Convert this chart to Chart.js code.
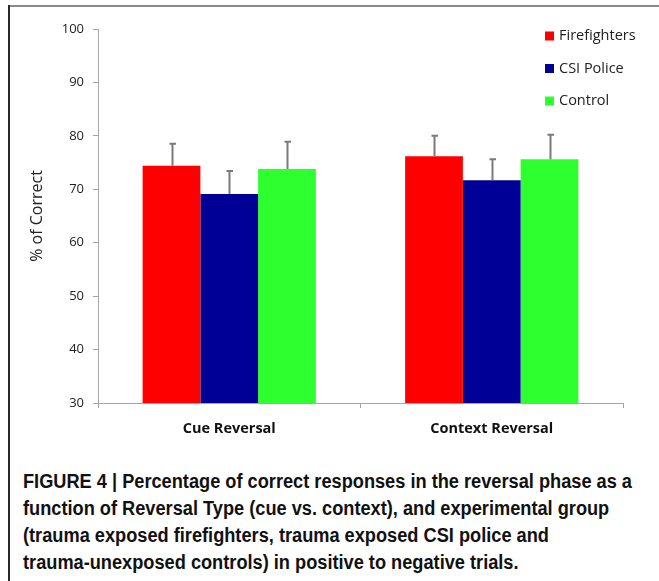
<!DOCTYPE html>
<html>
<head>
<meta charset="utf-8">
<script src="https://cdn.jsdelivr.net/npm/chart.js@4/dist/chart.umd.min.js"></script>
<style>
  html, body { margin: 0; padding: 0; background: #fff; }
  #page { position: relative; width: 659px; height: 581px; overflow: hidden; background: #fff; }
  #frameTop { position: absolute; left: 8px; top: 5px; width: 651px; height: 2px; background: #8a8a8a; }
  #frameLeft { position: absolute; left: 8px; top: 5px; width: 2px; height: 576px; background: #2a2a2a; }
  #chartBox { position: absolute; left: 0; top: 0; width: 659px; height: 455px; }
  #caption {
    position: absolute; left: 23px; top: 468px; white-space: nowrap;
    font-family: "Liberation Sans", Arial, sans-serif;
    font-weight: bold; font-size: 20px; letter-spacing: 0; line-height: 27px; color: #111;
    transform: scaleX(0.91); transform-origin: 0 0;
  }
</style>
</head>
<body>
<div id="page">
  <div id="chartBox"><canvas id="c" width="659" height="455"></canvas></div>
  <div id="frameTop"></div>
  <div id="frameLeft"></div>
  <div id="caption">FIGURE 4 | Percentage of correct responses in the reversal phase as a<br>function of Reversal Type (cue vs. context), and experimental group<br>(trauma exposed firefighters, trauma exposed CSI police and<br>trauma-unexposed controls) in positive to negative trials.</div>
</div>
<script>
// Reversal types on the x axis
const categories = ['Cue Reversal', 'Context Reversal'];
// Group labels
const groups = ['Firefighters', 'CSI Police', 'Control'];
// Mean % correct per group
const firefighters = [74.4, 76.2];
const csiPolice = [69.1, 71.7];
const control = [73.8, 75.6];
// Upper error bar extents (SEM)
const firefightersErr = [4.1, 3.8];
const csiPoliceErr = [4.3, 3.9];
const controlErr = [5.1, 4.6];
// Y-axis ticks
const yTicks = [30, 40, 50, 60, 70, 80, 90, 100];

const colors = ['#ff0000', '#000096', '#2eff2e'];
const seriesValues = [firefighters, csiPolice, control];
const seriesErrors = [firefightersErr, csiPoliceErr, controlErr];

const uiFont = '"Open Sans", "Liberation Sans", sans-serif';

// Draws upward error bars with small caps above each bar
const errorBars = {
  id: 'errorBars',
  afterDatasetsDraw(chart) {
    const ctx = chart.ctx;
    const y = chart.scales.y;
    ctx.save();
    ctx.strokeStyle = '#7a7a7a';
    ctx.lineWidth = 2;
    chart.data.datasets.forEach((ds, i) => {
      const meta = chart.getDatasetMeta(i);
      meta.data.forEach((bar, j) => {
        const top = y.getPixelForValue(ds.data[j] + ds.errors[j]);
        const x = Math.round(bar.x) + 0.5;
        ctx.beginPath();
        ctx.moveTo(x, bar.y);
        ctx.lineTo(x, top);
        ctx.moveTo(x - 3, top);
        ctx.lineTo(x + 3.5, top);
        ctx.stroke();
      });
    });
    ctx.restore();
  }
};

// Legend drawn as a vertical list at the top right
const sideLegend = {
  id: 'sideLegend',
  afterDraw(chart) {
    const ctx = chart.ctx;
    ctx.save();
    ctx.font = '14.5px ' + uiFont;
    ctx.textBaseline = 'middle';
    ctx.textAlign = 'left';
    chart.data.datasets.forEach((ds, i) => {
      const cy = 36 + i * 32.5;
      ctx.fillStyle = ds.backgroundColor;
      ctx.fillRect(545, cy - 4.5, 9, 9);
      ctx.fillStyle = '#222';
      ctx.fillText(ds.label, 559, cy);
    });
    ctx.restore();
  }
};

new Chart(document.getElementById('c'), {
  type: 'bar',
  data: {
    labels: categories,
    datasets: groups.map((g, i) => ({
      label: g,
      data: seriesValues[i],
      errors: seriesErrors[i],
      backgroundColor: colors[i],
      borderWidth: 0,
      barPercentage: 1.0,
      categoryPercentage: 0.66
    }))
  },
  options: {
    responsive: false,
    animation: false,
    events: [],
    layout: { padding: { top: 29, right: 36, left: 0, bottom: 0 } },
    plugins: { legend: { display: false }, tooltip: { enabled: false } },
    scales: {
      x: {
        grid: { display: true, drawOnChartArea: false, drawTicks: true, tickLength: 5, color: '#a6a6a6', offset: true },
        border: { display: true, color: '#a6a6a6', width: 1 },
        ticks: { color: '#111', font: { family: uiFont, size: 14.5, weight: 'bold' }, padding: 12 },
        afterFit(scale) { scale.height = 52; }
      },
      y: {
        min: 30, max: 100,
        afterBuildTicks(scale) { scale.ticks = yTicks.map(v => ({ value: v })); },
        grid: { display: true, drawOnChartArea: false, drawTicks: true, tickLength: 5, color: '#a6a6a6' },
        border: { display: true, color: '#a6a6a6', width: 1 },
        ticks: { color: '#222', font: { family: uiFont, size: 13 }, padding: 9 },
        title: { display: true, text: '% of Correct', color: '#222', font: { family: uiFont, size: 16 }, padding: { top: 28, bottom: 0 } },
        afterFit(scale) { scale.width = 98; }
      }
    }
  },
  plugins: [errorBars, sideLegend]
});
</script>
</body>
</html>
